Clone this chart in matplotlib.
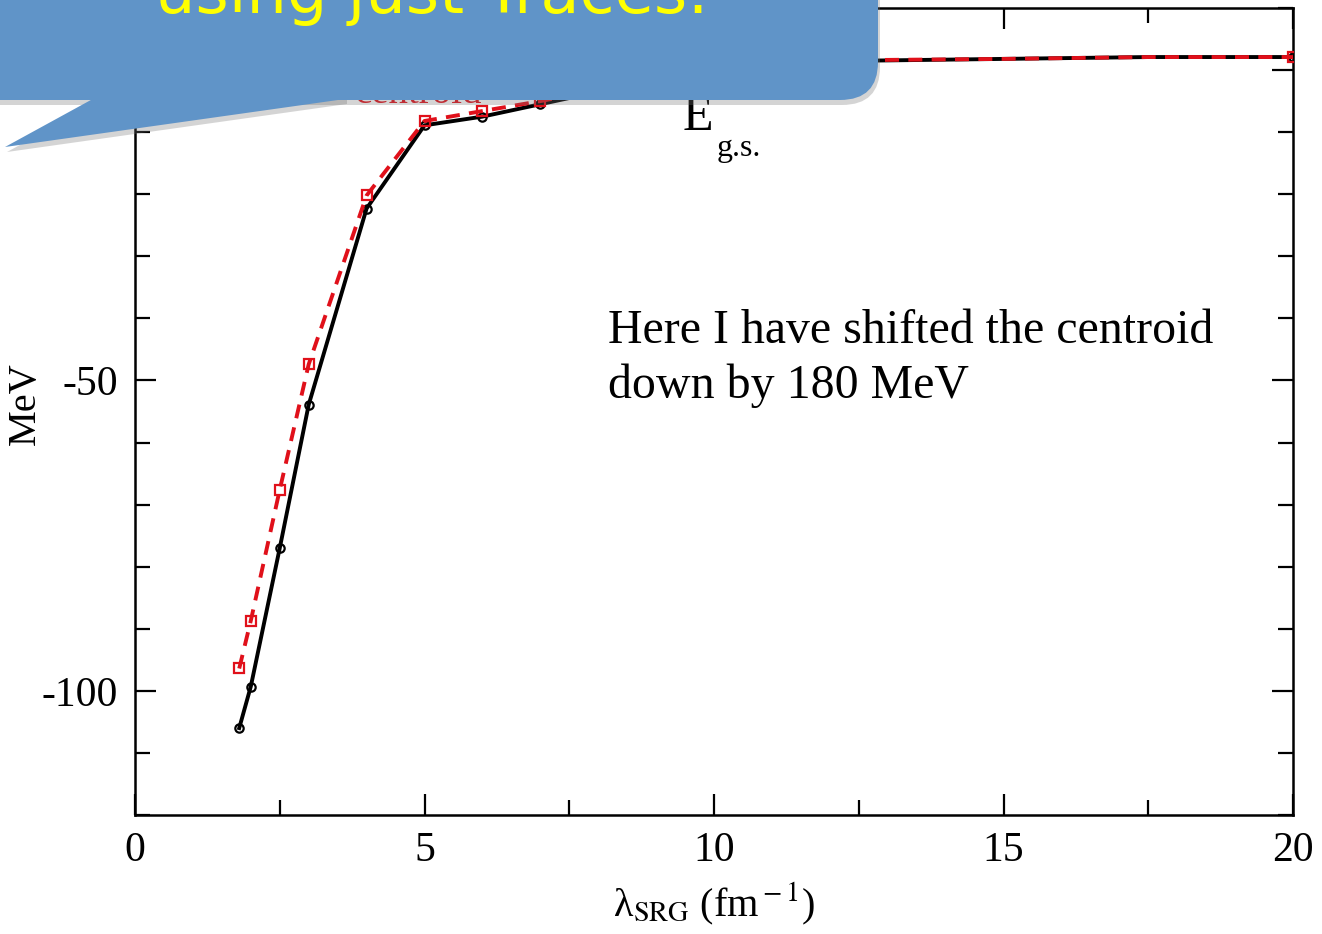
import matplotlib
matplotlib.use("Agg")
import matplotlib.pyplot as plt
from matplotlib.patches import FancyBboxPatch, Polygon
from matplotlib.ticker import MultipleLocator

# lambda_SRG values (fm^-1)
lam = [1.8, 2.0, 2.5, 3.0, 4.0, 5.0, 6.0, 7.0, 8.0, 10.0, 12.5, 15.0, 17.5, 20.0]
# ground-state energy (MeV)
e_gs = [-106.0, -99.3, -77.0, -53.9, -22.3, -8.9, -7.5, -5.5, -3.5, -0.5, 1.5, 1.8, 2.1, 2.1]
# shifted centroid (MeV)
centroid = [-96.4, -88.7, -67.6, -47.4, -20.2, -8.2, -6.6, -5.0, -3.2, -0.3, 1.6, 1.8, 2.1, 2.1]
# symbols are only visible on these points
shown = [0, 1, 2, 3, 4, 5, 6, 7, 8, 9, 13]

plt.rcParams['font.family'] = ['Liberation Serif', 'DejaVu Serif']
plt.rcParams['mathtext.fontset'] = 'stix'
plt.rcParams['axes.unicode_minus'] = False

W, H = 1322, 934
fig = plt.figure(figsize=(W / 100, H / 100), dpi=100)
ax = fig.add_axes([135 / W, 1 - 815 / H, (1293 - 135) / W, (815 - 8) / H])

ax.plot(lam, e_gs, color='k', lw=2.8, marker='o', ms=6, mfc='none', mec='k', mew=1.6,
        markevery=shown, zorder=3)
ax.plot(lam, centroid, color='#e0101a', lw=2.8, ls=(0, (3.6, 2.4)), marker='s', ms=7.5,
        mfc='none', mec='#e0101a', mew=1.6, markevery=shown, zorder=4)

ax.set_xlim(0, 20)
ax.set_ylim(-120, 10)
ax.xaxis.set_major_locator(MultipleLocator(5))
ax.xaxis.set_minor_locator(MultipleLocator(2.5))
ax.yaxis.set_major_locator(MultipleLocator(50))
ax.yaxis.set_minor_locator(MultipleLocator(10))
ax.tick_params(which='both', direction='in', top=True, right=True, width=1.6,
               labelsize=30, pad=12)
ax.tick_params(which='major', length=15)
ax.tick_params(which='minor', length=11)
for s in ax.spines.values():
    s.set_linewidth(1.8)

ax.set_xlabel('λ$_{\\rm SRG}$ (fm$^{\\rm -1}$)', fontsize=29, labelpad=8)
ax.set_ylabel('MeV', fontsize=29)
ax.yaxis.set_label_coords(-0.079, 0.51)

ax.text(8.17, -43.9, 'Here I have shifted the centroid', fontsize=34.5, va='baseline')
ax.text(8.17, -52.9, 'down by 180 MeV', fontsize=34.5, va='baseline')
ax.text(9.45, -9.7, 'E', fontsize=36, va='baseline')
ax.text(10.05, -13.8, 'g.s.', fontsize=23, va='baseline')

# overlay in pixel coordinates for the callout bubble
ov = fig.add_axes([0, 0, 1, 1], zorder=10)
ov.set_xlim(0, W)
ov.set_ylim(H, 0)
ov.axis('off')
ov.patch.set_alpha(0)

# red label hidden under the bubble
ov.text(355, 103, 'centroid', color='#e0101a', fontsize=28, va='baseline', zorder=1)

for dx, dy, col, a, z in [(2, 5, '0.45', 0.3, 2), (0, 0, '#6094c8', 1, 3)]:
    ov.add_patch(FancyBboxPatch((-60 + dx, -200 + dy), 938, 300,
                                boxstyle='round,pad=0,rounding_size=38',
                                fc=col, ec='none', alpha=a, zorder=z))
    ov.add_patch(Polygon([(100 + dx, 95 + dy), (5 + dx, 147 + dy), (345 + dx, 99 + dy),
                          (345 + dx, 90 + dy)], closed=True, fc=col, ec='none',
                         alpha=a, zorder=z))

ov.text(155, 13, 'using just Traces:', color='#ffff00', fontsize=46, va='baseline',
        family='DejaVu Sans', zorder=5)

fig.savefig('out.png', dpi=100)
